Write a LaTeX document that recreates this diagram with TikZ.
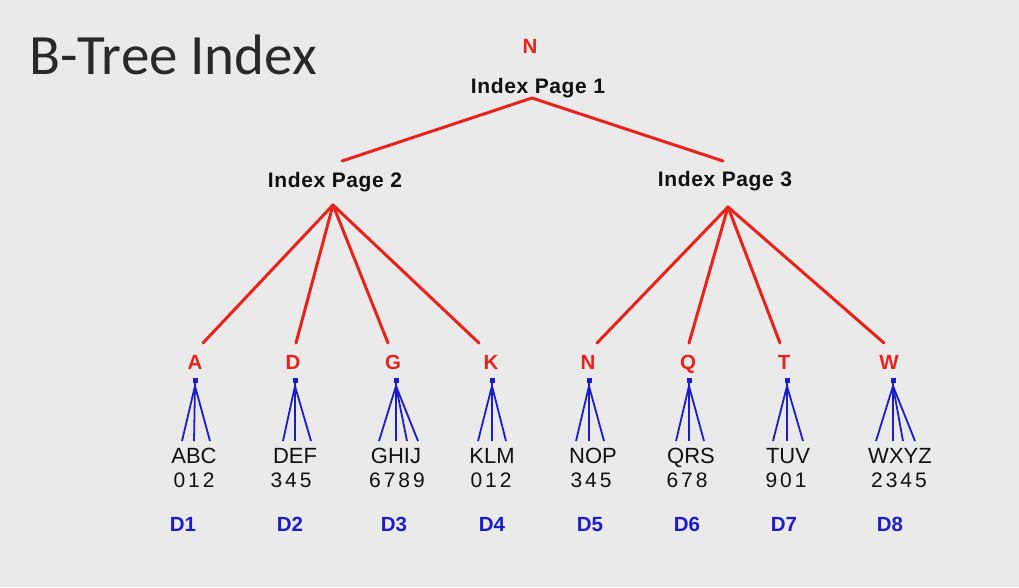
\documentclass[tikz,border=0pt]{standalone}
\usepackage{fontspec}
\usetikzlibrary{calc}
\setmainfont{Liberation Sans}
\newfontfamily\titlefont{Carlito}
\definecolor{bg}{HTML}{EAEAEA}
\definecolor{tred}{HTML}{E8231C}
\definecolor{tblue}{HTML}{1C1CCC}
\definecolor{ink}{HTML}{111111}
\begin{document}
\begin{tikzpicture}[x=1pt,y=-1pt,
  pagelbl/.style={anchor=base,inner sep=0pt,font=\fontsize{21}{21}\selectfont\bfseries\addfontfeature{LetterSpace=3},text=ink},
  keylbl/.style={anchor=base,inner sep=0pt,font=\fontsize{20.5}{20.5}\selectfont\bfseries,text=tred},
  leaflbl/.style={anchor=base,inner sep=0pt,font=\fontsize{22}{22}\selectfont,text=ink},
  diglbl/.style={anchor=base,inner sep=0pt,font=\fontsize{21}{21}\selectfont\addfontfeature{LetterSpace=14},text=ink},
  dlbl/.style={anchor=base,inner sep=0pt,font=\fontsize{20.5}{20.5}\selectfont\bfseries,text=tblue},
  redline/.style={draw=tred,line width=3pt,line cap=round},
  blueline/.style={draw=tblue,line width=1.8pt},
]
\fill[bg] (0,0) rectangle (1019,587);
\useasboundingbox (0,0) rectangle (1019,587);

% title
\node[anchor=base west,inner sep=0pt,font=\titlefont\fontsize{57}{57}\selectfont,text=ink!90!white] (title) at (29,74) {B-Tree Index};

% root
\node[keylbl] (rootkey) at (530,53) {N};
\node[pagelbl] (page1) at (538,93) {Index Page 1};
\node[pagelbl] (page2) at (335,187) {Index Page 2};
\node[pagelbl] (page3) at (725,186) {Index Page 3};

\coordinate (p1) at (532,98);
\coordinate (p2top) at (342,161);
\coordinate (p3top) at (723,161);
\coordinate (f2) at (333,205);
\coordinate (f3) at (728,207);
\draw[redline] (p2top) -- (p1) -- (p3top);

% leaves
\foreach \i/\L/\lx/\rx/\bx/\txt/\tx/\ends/\dig/\dx/\Dx in {
  1/A/195/203/195/ABC/194/{182,194,210}/012/194/183,
  2/D/293/296/295/DEF/295/{283,295,311}/345/291/290,
  3/G/393/388/396/GHIJ/396/{379,396,407,418}/6789/397/394,
  4/K/491/479/492/KLM/492/{478,492,506}/012/491/492,
  5/N/588/597/589/NOP/593/{576,589,604}/345/591/590,
  6/Q/688/689/689/QRS/691/{676,689,704}/678/687/687,
  7/T/784/780/787/TUV/788/{773,787,803}/901/786/784,
  8/W/889/884/893/WXYZ/900/{876,893,903,915}/2345/899/890}{
  \node[keylbl] (r\i) at (\lx,369) {\L};
  \coordinate (e\i) at (\rx,343);
  \ifnum\i<5 \draw[redline] (f2) -- (e\i); \else \draw[redline] (f3) -- (e\i); \fi
  \coordinate (a\i) at (\bx,380);
  \coordinate (s\i) at (\bx,386);
  \fill[tblue] ($(a\i)+(-2.5,-2.5)$) rectangle ($(a\i)+(2.5,2.5)$);
  \draw[blueline] (a\i) -- (s\i);
  \foreach \e [count=\k] in \ends {
    \coordinate (b\i-\k) at (\e,441);
    \draw[blueline] (s\i) -- (b\i-\k);
  }
  \node[leaflbl] (t\i) at (\tx,463) {\txt};
  \node[diglbl] (n\i) at (\dx,487) {\dig};
  \node[dlbl] (d\i) at (\Dx,531) {D\i};
}
\end{tikzpicture}
\end{document}
